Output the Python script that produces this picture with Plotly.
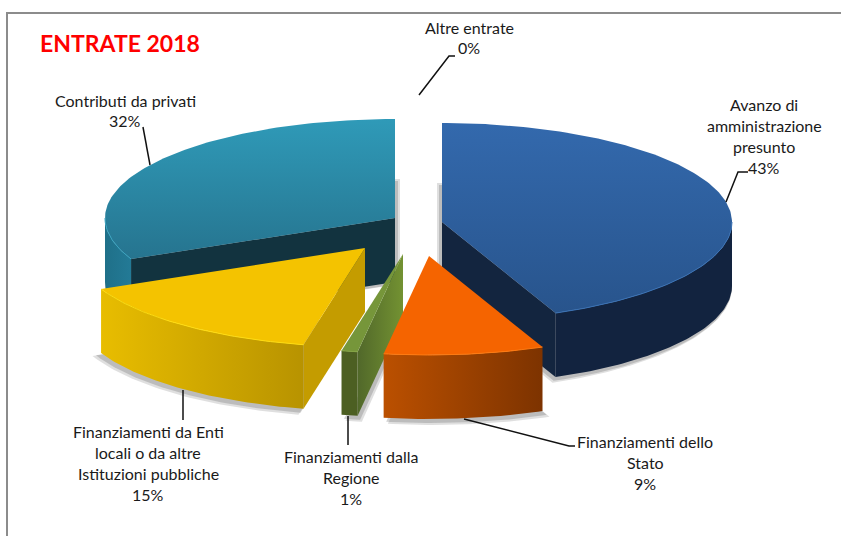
import math
import plotly.graph_objects as go

# ---- data (listed clockwise from 12 o'clock)
categories = ["Avanzo di amministrazione presunto", "Finanziamenti dello Stato",
              "Finanziamenti dalla Regione", "Finanziamenti da Enti locali o da altre Istituzioni pubbliche",
              "Contributi da privati", "Altre entrate"]
values = [43.6, 8.9, 0.9, 14.8, 31.8, 0.0]

# ---- geometry / style
W, H = 841, 536
RX, RY, DEPTH = 290, 99, 64
apex = [(442, 222), (429, 256), (403, 254), (365, 248), (395, 218), (419, 218)]
top_fill = [("vertical", "#28548c", "#3369ad"), (None, "#f56400", None), (None, "#76963a", None),
            (None, "#f4c300", None), ("vertical", "#26748f", "#2f9ab8"), (None, "#999999", None)]
wall_fill = [("horizontal", "#12233f", "#12233f"), ("horizontal", "#bb5000", "#7d3300"),
             ("horizontal", "#4c5f22", "#4c5f22"), ("horizontal", "#e8bd00", "#b89300"),
             ("horizontal", "#1f7089", "#237a96"), (None, "#999999", None)]
cut_fill = [("horizontal", "#13253f", "#13253f"), (None, "#8a3600", None),
            ("horizontal", "#51682a", "#739232"), (None, "#c49c00", None),
            (None, "#12333f", None), (None, "#999999", None)]
edge_col = ["#3a72b5", "#ff7a10", "#84a445", "#ffdc10", "#3aa3c0", "#999999"]
shadow_dx = [-5, 5, 5, -4, 5, 0]
draw_order = [4, 0, 3, 2, 1]

fig = go.Figure()


def pt(i, th, dy=0.0, grow=0.0, dx=0.0):
    ax, ay = apex[i]
    return ax + dx + (RX + grow) * math.sin(th), ay + dy - (RY + grow) * math.cos(th)


def arc(i, a, b, dy=0.0, grow=0.0, dx=0.0):
    n = max(2, int(abs(b - a) * 60))
    return [pt(i, a + (b - a) * k / n, dy, grow, dx) for k in range(n + 1)]


def poly(points, spec, width=0, line=None):
    xs = [p[0] for p in points] + [points[0][0]]
    ys = [p[1] for p in points] + [points[0][1]]
    kind, c0, c1 = spec
    kw = dict(fillcolor=c0)
    if kind:
        kw = dict(fillgradient=dict(type=kind, colorscale=[[0, c0], [1, c1]]))
    fig.add_trace(go.Scatter(x=xs, y=ys, mode="lines", fill="toself",
                             line=dict(width=width, color=line or c0), hoverinfo="skip", **kw))


# cumulative angles from the values
total = sum(values)
bounds, acc = [], 0.0
for v in values:
    a = acc / total * 2 * math.pi
    acc += v
    bounds.append((a, acc / total * 2 * math.pi))

for i in draw_order:
    a, b = bounds[i]
    ax, ay = apex[i]
    # soft shadow: dilated copy of the base of the slice
    for grow, f, alpha in [(5, 1.0, "rgba(110,110,110,0.22)"), (3, 0.6, "rgba(110,110,110,0.30)")]:
        sdx = shadow_dx[i] * f
        poly([(ax + sdx, ay + DEPTH + 2)] + arc(i, a, b, DEPTH + 1, grow, sdx), (None, alpha, None))
    # cut faces
    if math.sin(a) < 0:
        p = pt(i, a)
        poly([(ax, ay), p, (p[0], p[1] + DEPTH), (ax, ay + DEPTH)], cut_fill[i])
    if math.sin(b) > 0:
        p = pt(i, b)
        poly([(ax, ay), p, (p[0], p[1] + DEPTH), (ax, ay + DEPTH)], cut_fill[i])
    # outer wall (front half only)
    lo, hi = max(a, math.pi / 2), min(b, 3 * math.pi / 2)
    if hi > lo:
        poly(arc(i, lo, hi) + arc(i, hi, lo, DEPTH), wall_fill[i])
    # top face
    poly([(ax, ay)] + arc(i, a, b), top_fill[i])
    # rim highlight
    if hi > lo:
        rim = arc(i, lo, hi)
        fig.add_trace(go.Scatter(x=[p[0] for p in rim], y=[p[1] for p in rim], mode="lines",
                                 line=dict(width=1, color=edge_col[i]), hoverinfo="skip"))

# ---- texts
FONT = "Lato, Carlito, Calibri, sans-serif"
label_lines = [
    (469, [27, 47], ["Altre entrate", "0%"]),
    (125, [100, 120], ["Contributi da privati", "32%"]),
    (764, [104, 125, 146, 167], ["Avanzo di", "amministrazione", "presunto", "43%"]),
    (148, [431, 452, 473, 494], ["Finanziamenti da Enti", "locali o da altre", "Istituzioni pubbliche", "15%"]),
    (351, [456, 477, 498], ["Finanziamenti dalla", "Regione", "1%"]),
    (645, [441, 462, 483], ["Finanziamenti dello", "Stato", "9%"]),
]
ann = [dict(x=120, y=43, xref="x", yref="y", text="<b>ENTRATE 2018</b>", showarrow=False,
            font=dict(family=FONT, size=23, color="#ff0000"))]
for cx, ys, lines in label_lines:
    for y, t in zip(ys, lines):
        ann.append(dict(x=cx, y=y, xref="x", yref="y", text=t, showarrow=False,
                        font=dict(family=FONT, size=16, color="#1a1a1a")))

leaders = [
    [(419, 95), (449, 56), (455, 56)],
    [(150, 165), (143, 127)],
    [(726, 202), (738, 172), (748, 172)],
    [(183, 390), (183, 420)],
    [(348, 416), (348, 445)],
    [(464, 419), (569, 446), (575, 446)],
]
shapes = []
for seg in leaders:
    d = "M" + " L".join(f"{x},{y}" for x, y in seg)
    shapes.append(dict(type="path", path=d, xref="x", yref="y", line=dict(color="#111111", width=1.5)))
# frame
shapes.append(dict(type="path", path=f"M7,{H} L7,13 L{W},13", xref="x", yref="y",
                   line=dict(color="#8c8c8c", width=2)))

fig.update_layout(
    width=W, height=H, margin=dict(l=0, r=0, t=0, b=0), showlegend=False,
    paper_bgcolor="white", plot_bgcolor="white", annotations=ann, shapes=shapes,
    xaxis=dict(range=[0, W], visible=False, fixedrange=True),
    yaxis=dict(range=[H, 0], visible=False, fixedrange=True),
)
fig.write_html("out.html", config={"displayModeBar": False},
               post_script="document.body.style.margin='0';document.body.style.overflow='hidden';")
